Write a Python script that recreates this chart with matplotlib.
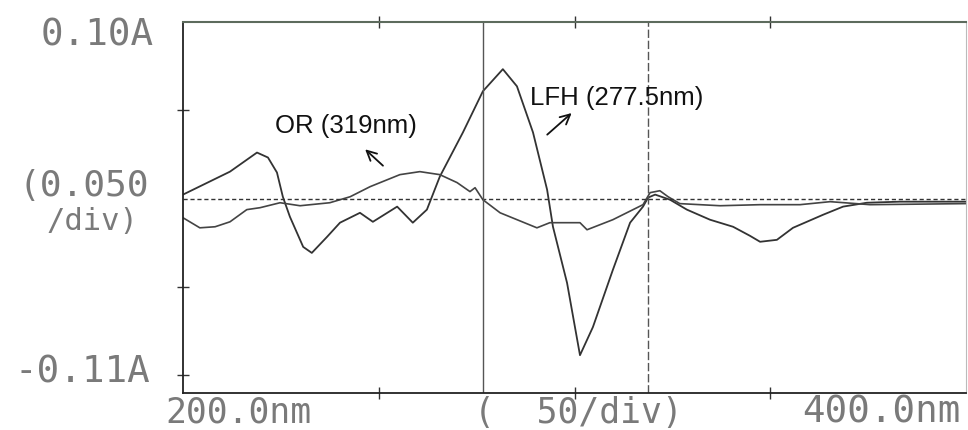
import matplotlib.pyplot as plt

# --- données (nm, absorbance dérivée) ---
lfh_nm = [200.0, 212.0, 218.9, 221.7, 224.0, 225.5, 227.3, 230.7, 232.9, 236.8,
          240.1, 245.2, 248.5, 254.7, 258.7, 262.3, 265.6, 271.5, 276.6, 281.7,
          285.3, 289.4, 293.0, 294.5, 298.1, 301.4, 304.7, 309.8, 314.2, 317.5,
          318.8, 320.6, 324.4, 328.7, 334.6, 340.5, 344.8, 347.4, 351.7, 355.8,
          363.5, 368.6, 374.7, 383.1, 400.0]
lfh_abs = [0.0023, 0.0153, 0.0261, 0.0233, 0.0148, 0.0011, -0.0102, -0.0273, -0.0307, -0.0216,
           -0.0136, -0.0080, -0.0131, -0.0045, -0.0136, -0.0062, 0.0125, 0.0375, 0.0608, 0.0733,
           0.0636, 0.0375, 0.0051, -0.0159, -0.0477, -0.0886, -0.0727, -0.0403, -0.0136, -0.0045,
           0.0006, 0.0023, -0.0006, -0.0062, -0.0119, -0.0159, -0.0210, -0.0244, -0.0233, -0.0165,
           -0.0091, -0.0045, -0.0023, -0.0017, -0.0017]

or_nm = [200.0, 204.3, 208.2, 212.0, 216.3, 219.7, 224.8, 229.9, 237.5, 242.7,
         247.8, 255.4, 260.5, 265.6, 270.0, 273.3, 274.6, 276.6, 281.0, 290.4,
         293.7, 301.4, 303.2, 309.8, 317.5, 319.3, 321.8, 323.9, 326.9, 337.2,
         347.4, 357.6, 365.3, 375.5, 400.0]
or_abs = [-0.0108, -0.0165, -0.0159, -0.0131, -0.0062, -0.0051, -0.0023, -0.0040, -0.0023, 0.0011,
          0.0068, 0.0136, 0.0153, 0.0136, 0.0091, 0.0040, 0.0062, -0.0006, -0.0080, -0.0165,
          -0.0136, -0.0136, -0.0176, -0.0119, -0.0034, 0.0034, 0.0045, 0.0011, -0.0028, -0.0040,
          -0.0034, -0.0034, -0.0017, -0.0034, -0.0028]

zero_cross = [276.6, 318.8]   # LFH (277.5 nm), OR (319 nm)

W, H = 968, 431
fig = plt.figure(figsize=(W / 100, H / 100), dpi=100)
ax = fig.add_axes([183 / W, 1 - 394 / H, (966 - 183) / W, (394 - 23) / H])

ax.plot(lfh_nm, lfh_abs, color='#333333', lw=1.3)
ax.plot(or_nm, or_abs, color='#444444', lw=1.2)

ax.axhline(0, color='#333333', lw=1.0, ls=(0, (3, 2)))
ax.axvline(zero_cross[0], color='#555555', lw=1.0)
ax.axvline(zero_cross[1], color='#555555', lw=1.0, ls=(0, (6, 2)))

ax.set_xlim(200, 400)
ax.set_ylim(-0.11, 0.10)
ax.set_xticks([250, 300, 350])
ax.set_yticks([0.05, -0.05, -0.10])
ax.tick_params(direction='inout', length=8, width=1, labelbottom=False,
               labelleft=False, top=True, color='#333333')

ax.spines['top'].set_color('#5d6b5d')
ax.spines['top'].set_linewidth(1.5)
ax.spines['left'].set_color('#222222')
ax.spines['left'].set_linewidth(1.3)
ax.spines['bottom'].set_color('#222222')
ax.spines['bottom'].set_linewidth(1.3)
ax.spines['right'].set_color('#bbbbbb')

# annotations
ann = dict(fontsize=18.5, family='Liberation Sans', color='#111111', ha='center', va='center')
ax.text(241.6, 0.0415, 'OR (319nm)', **ann)
ax.text(310.9, 0.0573, 'LFH (277.5nm)', **ann)
fleche = dict(arrowstyle='->, head_length=0.7, head_width=0.35', color='#111111', lw=1.3)
ax.annotate('', xy=(246.0, 0.0290), xytext=(251.6, 0.0176), arrowprops=fleche)
ax.annotate('', xy=(299.8, 0.0495), xytext=(292.5, 0.0352), arrowprops=fleche)

# libellés façon imprimante
lab = dict(family='DejaVu Sans Mono', color='#7a7a7a', ha='center', va='center')
fig.text(97 / W, 1 - 36 / H, '0.10A', fontsize=27, **lab)
fig.text(84 / W, 1 - 186 / H, '(0.050', fontsize=26, **lab)
fig.text(92 / W, 1 - 222 / H, '/div)', fontsize=22, **lab)
fig.text(82 / W, 1 - 373 / H, '-0.11A', fontsize=27, **lab)
fig.text(238 / W, 1 - 413 / H, '200.0nm', fontsize=25, **lab)
fig.text(578 / W, 1 - 413 / H, '(  50/div)', fontsize=25, **lab)
fig.text(881 / W, 1 - 413 / H, '400.0nm', fontsize=27, **lab)

fig.savefig('out.png', dpi=100)
